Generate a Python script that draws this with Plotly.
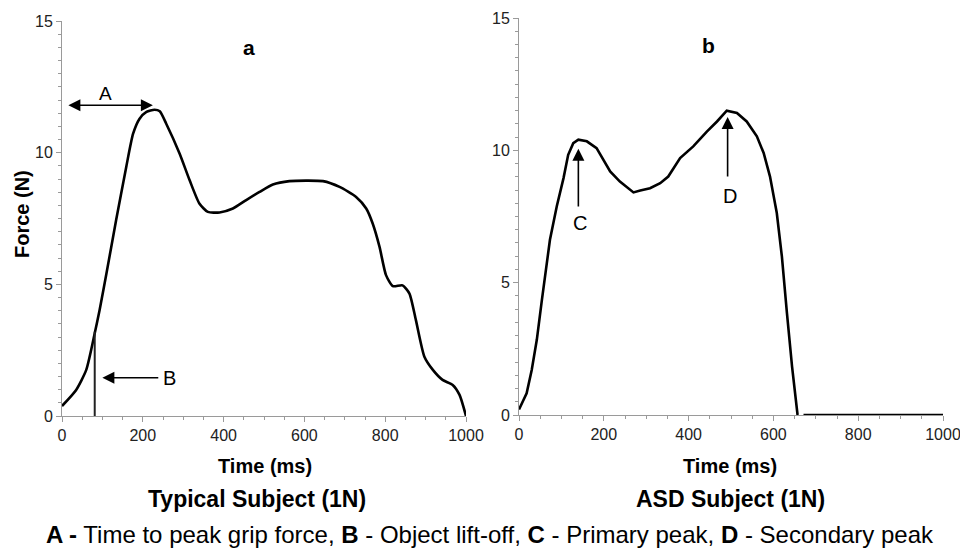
import plotly.graph_objects as go

# Panel a: Typical subject
time_a = [0, 35, 60, 81, 93, 110, 134, 159, 176, 192, 209, 229, 242, 258, 291, 316, 340, 361, 390,
          423, 456, 489, 522, 563, 604, 646, 687, 728, 753, 769, 786, 802, 819, 843, 860, 876, 897,
          918, 942, 967, 984, 1000]
force_a = [0.38, 0.99, 1.75, 3.14, 4.02, 5.41, 7.44, 9.46, 10.72, 11.29, 11.55, 11.63, 11.57, 11.1,
           9.97, 8.95, 8.07, 7.75, 7.73, 7.88, 8.2, 8.51, 8.79, 8.92, 8.94, 8.92, 8.70, 8.32, 7.88,
           7.31, 6.42, 5.35, 4.93, 4.96, 4.65, 3.64, 2.25, 1.75, 1.37, 1.18, 0.80, 0.0]

# Panel b: ASD subject
time_b = [0, 18, 30, 42, 54, 65, 73, 89, 105, 116, 128, 140, 160, 183, 215, 238, 270, 286, 309, 333,
          352, 380, 411, 443, 467, 490, 514, 537, 561, 577, 592, 608, 620, 632, 644, 657, 664, 671, 1000]
force_b = [0.21, 0.82, 1.70, 2.84, 4.35, 5.74, 6.62, 7.88, 8.95, 9.83, 10.27, 10.40, 10.34, 10.08,
           9.20, 8.82, 8.41, 8.48, 8.57, 8.76, 9.01, 9.71, 10.15, 10.71, 11.09, 11.50, 11.41, 11.09,
           10.53, 9.90, 9.01, 7.63, 5.99, 3.84, 1.83, 0.0, None, 0.0, 0.0]

x_ticks = [0, 200, 400, 600, 800, 1000]
y_ticks = [0, 5, 10, 15]

# Annotation values
liftoff_time = 81
liftoff_force = 3.2
peak_arrow = (12, 225, 11.8)        # start time, end time, force
primary_peak = (140, 7.82, 10.06)   # time, tail force, head force
secondary_peak = (492, 8.95, 11.26)

FONT = "Liberation Sans"
AX_COLOR = "#9a9a9a"

# page body has an 8px margin; figure is sized / positioned to compensate
W, H, OFF = 960, 540, 8


def px_x(px):
    return (px - OFF) / W


def px_y(py):
    return 1 - (py - OFF) / H


fig = go.Figure()
fig.add_trace(go.Scatter(x=time_a, y=force_a, mode="lines", line=dict(color="black", width=2.6),
                         line_shape="spline", line_smoothing=0.6, xaxis="x", yaxis="y",
                         showlegend=False, hoverinfo="skip"))
fig.add_trace(go.Scatter(x=[liftoff_time, liftoff_time], y=[0, liftoff_force], mode="lines",
                         line=dict(color="#222", width=2), xaxis="x", yaxis="y", showlegend=False))
fig.add_trace(go.Scatter(x=time_b, y=force_b, mode="lines", line=dict(color="black", width=2.6),
                         xaxis="x2", yaxis="y2", showlegend=False, hoverinfo="skip", connectgaps=False))

axis_common = dict(showgrid=False, zeroline=False, showline=True, linecolor=AX_COLOR, automargin=False,
                   linewidth=1, ticks="outside", tickcolor=AX_COLOR, ticklen=5, tickwidth=1,
                   tickfont=dict(family=FONT, size=16, color="#222"))

xa = dict(axis_common, range=[0, 1000], tickvals=x_ticks,
          minor=dict(ticks="outside", dtick=50, ticklen=3, tickcolor=AX_COLOR))
ya = dict(axis_common, range=[0, 15], tickvals=y_ticks,
          minor=dict(ticks="outside", dtick=0.5, ticklen=3, tickcolor=AX_COLOR))

fig.update_layout(
    template="none",
    width=W, height=H, margin=dict(l=0, r=0, t=0, b=0, pad=0),
    plot_bgcolor="white", paper_bgcolor="white",
    xaxis=dict(xa, domain=[px_x(62), px_x(466)], anchor="y"),
    yaxis=dict(ya, domain=[px_y(416), px_y(21)], anchor="x"),
    xaxis2=dict(xa, domain=[px_x(519), px_x(943)], anchor="y2"),
    yaxis2=dict(ya, domain=[px_y(415), px_y(18)], anchor="x2"),
    font=dict(family=FONT, color="black"),
)

ann = []
arrow_style = dict(showarrow=True, arrowhead=2, arrowwidth=1.6, arrowsize=1.5, arrowcolor="black", text="")
# Arrows panel a
ann.append(dict(arrow_style, x=peak_arrow[1], y=peak_arrow[2], ax=peak_arrow[0], ay=peak_arrow[2],
                xref="x", yref="y", axref="x", ayref="y", arrowside="end+start"))
ann.append(dict(x=108, y=12.25, xref="x", yref="y", text="A", showarrow=False,
                font=dict(size=19, family=FONT)))
ann.append(dict(arrow_style, x=100, y=1.45, ax=242, ay=1.45, xref="x", yref="y", axref="x", ayref="y"))
ann.append(dict(x=266, y=1.45, xref="x", yref="y", text="B", showarrow=False,
                font=dict(size=20, family=FONT)))
ann.append(dict(x=464, y=14.0, xref="x", yref="y", text="<b>a</b>", showarrow=False,
                font=dict(size=21, family=FONT)))
# Arrows panel b
ann.append(dict(arrow_style, x=primary_peak[0], y=primary_peak[2], ax=primary_peak[0], ay=primary_peak[1],
                xref="x2", yref="y2", axref="x2", ayref="y2"))
ann.append(dict(x=144, y=7.25, xref="x2", yref="y2", text="C", showarrow=False,
                font=dict(size=20, family=FONT)))
ann.append(dict(arrow_style, x=secondary_peak[0], y=secondary_peak[2], ax=secondary_peak[0],
                ay=secondary_peak[1], xref="x2", yref="y2", axref="x2", ayref="y2"))
ann.append(dict(x=498, y=8.28, xref="x2", yref="y2", text="D", showarrow=False,
                font=dict(size=20, family=FONT)))
ann.append(dict(x=448, y=13.97, xref="x2", yref="y2", text="<b>b</b>", showarrow=False,
                font=dict(size=21, family=FONT)))

# Axis titles and captions (screen pixel centres)
for txt, (px, py), size, rot in [
    ("<b>Force (N)</b>", (22, 214), 20, -90),
    ("<b>Time (ms)</b>", (265, 466), 20, 0),
    ("<b>Time (ms)</b>", (730, 466), 20, 0),
    ("<b>Typical Subject (1N)</b>", (257, 499), 23, 0),
    ("<b>ASD Subject (1N)</b>", (730, 499), 23, 0),
    ("<b>A -</b> Time to peak grip force, <b>B</b> - Object lift-off, <b>C</b> - Primary peak, "
     "<b>D</b> - Secondary peak", (490, 534), 24, 0),
]:
    ann.append(dict(x=px_x(px), y=px_y(py), xref="paper", yref="paper", text=txt, showarrow=False,
                    textangle=rot, xanchor="center", yanchor="middle",
                    font=dict(size=size, family=FONT, color="black")))

fig.update_layout(annotations=ann)
fig.write_html("out.html")
